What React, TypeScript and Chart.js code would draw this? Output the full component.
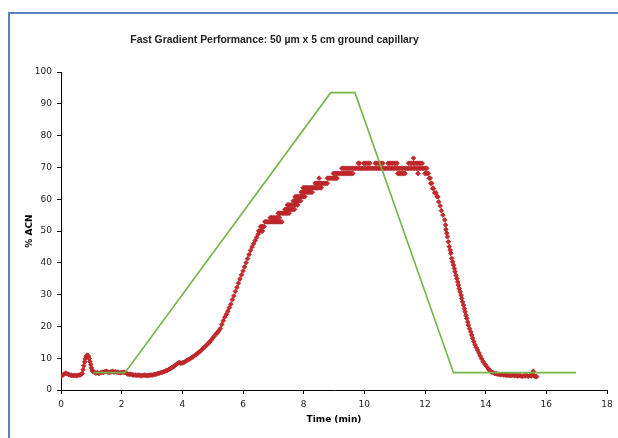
import { useEffect, useRef } from "react";
import { Chart, registerables } from "chart.js";

Chart.register(...registerables);

const chartTitle = "Fast Gradient Performance: 50 µm x 5 cm ground capillary";
const xAxisTitle = "Time (min)";
const yAxisTitle = "% ACN";
const xTickValues = [0, 2, 4, 6, 8, 10, 12, 14, 16, 18];
const yTickValues = [0, 10, 20, 30, 40, 50, 60, 70, 80, 90, 100];

// Programmed gradient (green line)
const gradientTime = [1.07, 2.11, 8.89, 9.69, 12.94, 16.98];
const gradientAcn = [5.45, 5.45, 93.5, 93.5, 5.45, 5.45];

// Measured trace (red points) as [time, %ACN]
const baselineRun: [number, number][] = [
  [0.0, 4.3], [0.05, 4.6], [0.1, 5.0], [0.15, 5.3], [0.2, 5.1], [0.25, 4.9], [0.3, 4.7], [0.35, 4.6],
  [0.4, 4.5], [0.45, 4.6], [0.5, 4.5], [0.55, 4.6], [0.6, 4.7], [0.65, 4.8], [0.7, 5.2], [0.73, 6.4],
  [0.75, 7.6], [0.78, 8.8], [0.8, 9.8], [0.83, 10.5], [0.85, 10.9], [0.88, 10.9], [0.9, 10.6],
  [0.93, 9.9], [0.95, 9.0], [0.98, 8.0], [1.0, 7.0], [1.03, 6.3], [1.05, 5.8], [1.1, 5.6], [1.15, 5.3],
  [1.2, 5.5], [1.25, 5.2], [1.3, 5.4], [1.35, 5.6], [1.4, 5.5], [1.45, 5.8], [1.5, 5.9], [1.55, 5.6],
  [1.6, 5.5], [1.65, 5.7], [1.7, 5.9], [1.75, 5.6], [1.8, 5.8], [1.85, 5.6], [1.9, 5.5], [1.95, 5.4],
  [2.0, 5.5], [2.05, 5.6], [2.1, 5.5], [2.15, 5.3], [2.2, 5.0], [2.25, 4.9], [2.3, 5.0], [2.35, 4.8],
  [2.4, 4.7], [2.45, 4.7], [2.5, 4.6], [2.55, 4.7], [2.6, 4.6], [2.65, 4.5], [2.7, 4.6], [2.75, 4.7],
  [2.8, 4.6], [2.85, 4.5], [2.9, 4.6], [2.95, 4.7], [3.0, 4.7], [3.05, 4.8], [3.1, 4.9], [3.15, 5.0],
  [3.2, 5.2], [3.25, 5.3], [3.3, 5.5], [3.35, 5.6], [3.4, 5.8], [3.45, 6.0], [3.5, 6.2], [3.55, 6.4],
  [3.6, 6.7], [3.65, 7.0], [3.7, 7.3], [3.75, 7.6], [3.8, 8.0], [3.85, 8.4], [3.9, 8.7], [3.95, 8.4],
  [4.0, 8.5], [4.05, 8.7], [4.1, 9.0], [4.15, 9.3], [4.2, 9.6], [4.25, 9.8], [4.3, 10.1], [4.35, 10.4],
  [4.4, 10.8], [4.45, 11.1], [4.5, 11.5], [4.55, 11.9], [4.6, 12.3], [4.65, 12.7], [4.7, 13.2],
  [4.75, 13.6], [4.8, 14.1], [4.85, 14.6], [4.9, 15.1], [4.95, 15.7],
];

const riseRun: [number, number][] = [
  [5.0, 16.3], [5.05, 16.9], [5.1, 17.5], [5.15, 18.0], [5.2, 18.6], [5.25, 19.3], [5.3, 20.6],
  [5.35, 21.8], [5.4, 22.9], [5.45, 23.8], [5.5, 24.8], [5.55, 25.9], [5.6, 27.0], [5.65, 28.4],
  [5.7, 29.6], [5.75, 31.0], [5.8, 32.3], [5.85, 33.6], [5.9, 34.9], [5.95, 36.2], [6.0, 37.4],
  [6.05, 38.7], [6.1, 40.0], [6.15, 41.3], [6.2, 42.6], [6.25, 43.9], [6.3, 45.0], [6.35, 46.0],
  [6.4, 47.0], [6.45, 48.0], [6.5, 49.0],
];

// Quantised detector levels: [level, times at which that level is seen]
const staircaseRows: [number, number[]][] = [
  [50.0, [6.52, 6.56, 6.6, 6.64]],
  [51.4, [6.58, 6.62, 6.66, 6.7]],
  [52.9, [6.72, 6.76, 6.8, 6.84, 6.88, 6.92, 6.96, 7.0, 7.04, 7.08, 7.12, 7.16, 7.2, 7.24, 7.28]],
  [54.2, [6.9, 6.95, 7.0, 7.05, 7.1, 7.15, 7.2]],
  [55.6, [7.16, 7.2, 7.24, 7.28, 7.32, 7.36, 7.4, 7.44, 7.48, 7.52]],
  [56.8, [7.38, 7.42, 7.46, 7.5, 7.54, 7.58, 7.62, 7.66, 7.7]],
  [58.2, [7.46, 7.5, 7.55, 7.6, 7.65, 7.7, 7.75, 7.8]],
  [59.5, [7.66, 7.7, 7.74, 7.78, 7.82, 7.86, 7.9]],
  [60.8, [7.72, 7.76, 7.8, 7.84, 7.88, 7.92, 7.96, 8.0, 8.04]],
  [62.2, [7.92, 7.96, 8.0, 8.04, 8.08, 8.12, 8.16, 8.2, 8.24, 8.28]],
  [63.6, [7.98, 8.02, 8.06, 8.1, 8.14, 8.18, 8.22, 8.26, 8.3, 8.34, 8.38, 8.42, 8.46, 8.5, 8.54, 8.58]],
  [65.0, [8.38, 8.42, 8.46, 8.5, 8.54, 8.58, 8.62, 8.66, 8.7, 8.74, 8.78]],
  [66.6, [8.51, 8.78, 8.82, 8.86, 8.9, 8.94, 8.98, 9.02, 9.06, 9.1]],
  [68.1, [8.98, 9.02, 9.06, 9.1, 9.14, 9.18, 9.22, 9.26, 9.3, 9.34, 9.38, 9.42, 9.46, 9.5, 9.54, 9.58, 9.62]],
];

const plateauRows: [number, number[]][] = [
  [69.7, [9.26, 9.31, 9.36, 9.41, 9.46, 9.51, 9.56, 9.61, 9.66, 9.71, 9.76, 9.81, 9.86, 9.91, 9.96,
    10.01, 10.06, 10.11, 10.16, 10.21, 10.26, 10.31, 10.36, 10.41, 10.46, 10.51, 10.56, 10.61, 10.66,
    10.71, 10.76, 10.81, 10.86, 10.91, 10.96, 11.01, 11.06, 11.11, 11.16, 11.21, 11.26, 11.31, 11.36,
    11.41, 11.46, 11.51, 11.56, 11.61, 11.66, 11.71, 11.76, 11.81, 11.86, 11.91, 11.96, 12.01, 12.06]],
  [71.3, [9.8, 9.84, 9.98, 10.03, 10.08, 10.13, 10.18, 10.36, 10.41, 10.46, 10.51, 10.56, 10.61, 10.78,
    10.83, 10.88, 10.93, 10.98, 11.03, 11.08, 11.46, 11.51, 11.56, 11.61, 11.66, 11.71, 11.76, 11.81,
    11.86, 11.91]],
  [72.9, [11.62]],
  [68.1, [11.1, 11.14, 11.18, 11.22, 11.26, 11.3, 11.34, 11.77, 12.0, 12.04, 12.08]],
];

const descentRun: [number, number][] = [
  [12.11, 68.1], [12.14, 66.6], [12.17, 66.6], [12.19, 65.0], [12.22, 65.0], [12.25, 63.4], [12.28, 63.4],
  [12.32, 62.0], [12.36, 62.0], [12.4, 60.8], [12.42, 60.8], [12.45, 59.2], [12.5, 57.9], [12.54, 56.4],
  [12.59, 55.0], [12.65, 53.5], [12.68, 51.9], [12.69, 50.5], [12.72, 49.3], [12.74, 48.2], [12.77, 46.6],
  [12.8, 45.1], [12.83, 44.0], [12.85, 43.0], [12.88, 41.4], [12.91, 40.3], [12.94, 39.3], [12.97, 38.2],
  [12.99, 37.2], [13.02, 36.1], [13.05, 35.1], [13.08, 34.0], [13.1, 33.0], [13.13, 31.9], [13.16, 30.9],
  [13.19, 29.8], [13.21, 28.8], [13.24, 27.7], [13.27, 26.7], [13.3, 25.6], [13.32, 24.6], [13.35, 23.5],
  [13.38, 22.5], [13.41, 21.4], [13.43, 20.4], [13.47, 19.3], [13.51, 18.3], [13.54, 17.3], [13.57, 16.3],
  [13.61, 15.2], [13.65, 14.2], [13.69, 13.4], [13.73, 12.6], [13.78, 11.6], [13.82, 10.7], [13.87, 9.8],
  [13.92, 8.9], [13.98, 8.0], [14.04, 7.3], [14.09, 6.6], [14.14, 6.1],
];

const tailRun: [number, number][] = [
  [14.2, 5.6], [14.25, 5.4], [14.3, 5.2], [14.35, 5.1], [14.4, 5.0], [14.45, 4.9], [14.5, 4.8],
  [14.55, 4.9], [14.6, 4.7], [14.65, 4.8], [14.7, 4.6], [14.75, 4.7], [14.8, 4.5], [14.85, 4.6],
  [14.9, 4.7], [14.95, 4.5], [15.0, 4.6], [15.05, 4.4], [15.1, 4.6], [15.15, 4.5], [15.2, 4.3],
  [15.25, 4.5], [15.3, 4.4], [15.35, 4.6], [15.4, 4.3], [15.45, 4.5], [15.5, 4.4], [15.55, 5.0],
  [15.57, 5.9], [15.6, 4.4], [15.65, 4.3], [15.68, 4.2],
];

const rowsToPairs = (rows: [number, number[]][]) =>
  rows.flatMap(([level, times]) => times.map((t) => [t, level] as [number, number]));

const titlePlugin = {
  id: "fixedTitle",
  afterDraw(chart: any) {
    const ctx = chart.ctx;
    ctx.save();
    ctx.font = 'bold 10.4px "Liberation Sans", Arial, sans-serif';
    ctx.fillStyle = "#222";
    ctx.textAlign = "center";
    ctx.textBaseline = "middle";
    ctx.fillText(chartTitle, 274.5, 40);
    ctx.restore();
  },
};

export default function App() {
  const ref = useRef<HTMLCanvasElement | null>(null);

  useEffect(() => {
    if (!ref.current) return;
    const trace = [
      ...baselineRun,
      ...riseRun,
      ...rowsToPairs(staircaseRows),
      ...rowsToPairs(plateauRows),
      ...descentRun,
      ...tailRun,
    ].map(([x, y]) => ({ x, y }));
    const gradient = gradientTime.map((t, i) => ({ x: t, y: gradientAcn[i] }));

    const tickFont = { family: '"DejaVu Sans", Verdana, sans-serif', size: 9 };
    const titleFont = { family: '"DejaVu Sans", Verdana, sans-serif', size: 9, weight: "bold" as const };

    const chart = new Chart(ref.current, {
      type: "scatter",
      data: {
        datasets: [
          {
            label: "Gradient",
            data: gradient,
            showLine: true,
            borderColor: "#74b54a",
            borderWidth: 1.6,
            pointRadius: 0,
            fill: false,
          },
          {
            label: "Measured",
            data: trace,
            showLine: false,
            pointStyle: "rectRot",
            pointRadius: 2.4,
            backgroundColor: "#c62b2b",
            borderColor: "#b52226",
            borderWidth: 0.7,
          },
        ],
      },
      options: {
        responsive: false,
        animation: false,
        events: [],
        layout: { padding: { left: 0, right: 11, top: 72, bottom: 0 } },
        plugins: {
          legend: { display: false },
          title: { display: false },
          tooltip: { enabled: false },
        },
        scales: {
          x: {
            type: "linear",
            min: xTickValues[0],
            max: xTickValues[xTickValues.length - 1],
            ticks: { stepSize: xTickValues[1] - xTickValues[0], padding: 5, font: tickFont, color: "#222" },
            grid: { drawOnChartArea: false, drawTicks: true, tickLength: 4, color: "#000" },
            border: { display: true, color: "#000", width: 1 },
            title: { display: true, text: xAxisTitle, font: titleFont, color: "#000", padding: { top: 0, bottom: 12.6 } },
            afterFit: (s: any) => {
              s.height = 48;
            },
          },
          y: {
            type: "linear",
            min: yTickValues[0],
            max: yTickValues[yTickValues.length - 1],
            ticks: { stepSize: yTickValues[1] - yTickValues[0], padding: 5, font: tickFont, color: "#222" },
            grid: { drawOnChartArea: false, drawTicks: true, tickLength: 4, color: "#000" },
            border: { display: true, color: "#000", width: 1 },
            title: { display: true, text: yAxisTitle, font: titleFont, color: "#000", padding: { top: 24.6, bottom: 0 } },
            afterFit: (s: any) => {
              s.width = 61;
            },
          },
        },
      },
      plugins: [titlePlugin],
    });
    return () => chart.destroy();
  }, []);

  return (
    <div style={{ position: "fixed", left: 0, top: 0, width: 618, height: 438, overflow: "hidden", background: "#fff" }}>
      <div
        style={{
          position: "absolute",
          left: 8,
          top: 12,
          width: 640,
          height: 460,
          borderTop: "2px solid #5a80c6",
          borderLeft: "2px solid #5a80c6",
        }}
      />
      <canvas ref={ref} width={618} height={438} style={{ position: "absolute", left: 0, top: 0, width: 618, height: 438 }} />
    </div>
  );
}
